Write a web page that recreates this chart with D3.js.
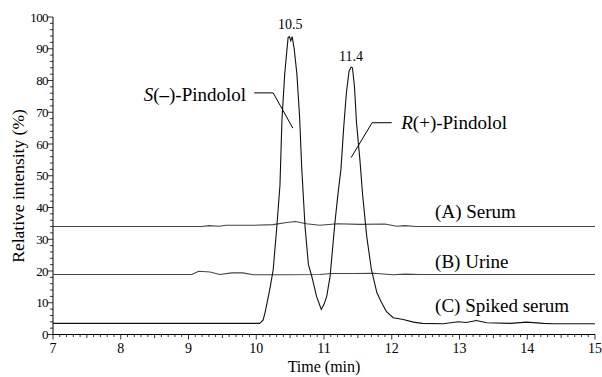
<!DOCTYPE html>
<html><head><meta charset="utf-8">
<script src="https://cdn.jsdelivr.net/npm/d3@7"></script>
<style>
html,body{margin:0;padding:0;background:#fff;}
svg, svg text{font-family:"Liberation Serif","Times New Roman",Times,serif;}
</style></head>
<body><svg id="c" width="602" height="377" font-family="Liberation Serif, Times New Roman, serif"></svg>
<script>
// ---- data (time in min, relative intensity in %) ----
const spikedTime = [7.0,9.9,10.05,10.1,10.13,10.2,10.25,10.3,10.35,10.38,10.42,10.45,10.47,10.49,10.51,10.53,10.56,10.6,10.64,10.67,10.72,10.77,10.82,10.89,10.96,11.0,11.04,11.09,11.16,11.21,11.25,11.29,11.33,11.37,11.4,11.42,11.45,11.48,11.53,11.57,11.63,11.7,11.78,11.85,11.92,12.02,12.17,12.32,12.45,12.76,12.98,13.1,13.25,13.4,13.75,13.99,14.24,14.38,15.0];
const spikedValue = [3.5,3.5,3.5,4.5,6.9,14.2,20.4,33,47,68,82,89,93.5,93.8,92.5,93.8,90,82,68.5,53,34,22,18.3,12,7.9,9.5,12,18.3,35,45,52,65,76,83,84.2,84,78,66.6,55,44,31,20.4,13.2,10,7.3,5.3,4.7,3.9,3.5,3.4,4.0,3.8,4.4,3.7,3.5,3.9,3.5,3.4,3.4];
const serumTime = [7.0,9.2,9.3,9.45,9.55,9.96,10.25,10.45,10.58,10.74,10.94,11.2,11.53,11.9,12.07,12.2,12.35,15.0];
const serumValue = [34.0,34.0,34.3,34.1,34.4,34.4,34.6,35.3,35.6,34.9,34.4,34.9,34.7,34.8,34.1,34.3,34.0,34.0];
const urineTime = [7.0,9.05,9.15,9.32,9.46,9.64,9.8,9.96,10.45,10.94,11.1,11.45,11.73,12.02,12.2,12.4,15.0];
const urineValue = [18.9,18.9,19.9,19.7,18.9,19.4,19.4,18.8,18.8,18.9,19.2,19.2,19.3,18.8,19.0,18.9,18.9];
const xTicks = [7,8,9,10,11,12,13,14,15];
const yTicks = [0,10,20,30,40,50,60,70,80,90,100];
const seriesNames = ["(A) Serum","(B) Urine","(C) Spiked serum"];
const seriesLabelAt = [[12.64,36.8],[12.64,21.1],[12.64,7.2]];
const peakTimes = [10.5, 11.4];
const peakLabelY = [96.2, 86.0];
const leaderS = [[9.97,76.1],[10.25,76.1],[10.54,65.0]];
const leaderR = [[12.0,66.7],[11.71,66.7],[11.40,55.7]];

// ---- chart ----
const FF = "Liberation Serif, Times New Roman, serif";
const svg = d3.select("#c");
const x = d3.scaleLinear().domain([7,15]).range([53,595]);
const y = d3.scaleLinear().domain([0,100]).range([334.5,17]);

// x axis
const xMinor = d3.range(70,151).map(d=>d/10);
const gx = svg.append("g").attr("transform",`translate(0,${y(0)})`);
gx.append("line").attr("x1",x(7)).attr("x2",x(15)).attr("stroke","#000");
gx.selectAll("line.mn").data(xMinor).join("line").attr("class","mn")
  .attr("x1",d=>x(d)).attr("x2",d=>x(d)).attr("y1",0)
  .attr("y2",d=>Math.abs(d-Math.round(d))<1e-6?5:(Math.abs(d*2-Math.round(d*2))<1e-6?3.5:2.5))
  .attr("stroke","#000").attr("stroke-width",0.8);
gx.selectAll("text").data(xTicks).join("text")
  .attr("x",d=>x(d)).attr("y",18).attr("text-anchor","middle").attr("font-family",FF)
  .attr("font-size",14).text(d=>d);

// y axis
const yMinor = d3.range(0,101,2);
const gy = svg.append("g").attr("transform",`translate(${x(7)},0)`);
gy.append("line").attr("y1",y(0)).attr("y2",y(100)).attr("stroke","#000");
gy.selectAll("line.mn").data(yMinor).join("line").attr("class","mn")
  .attr("y1",d=>y(d)).attr("y2",d=>y(d)).attr("x1",0)
  .attr("x2",d=>d%10===0?-5:-3).attr("stroke","#000").attr("stroke-width",0.8);
gy.selectAll("text").data(yTicks).join("text")
  .attr("x",-5).attr("y",d=>y(d)).attr("dy","0.35em").attr("text-anchor","end").attr("font-family",FF)
  .attr("font-size",13).attr("letter-spacing",-0.6).text(d=>d);

// axis titles
svg.append("text").attr("x",(x(7)+x(15))/2).attr("y",372).attr("text-anchor","middle").attr("font-family",FF)
  .attr("font-size",16).text("Time (min)");
svg.append("text").attr("transform",`translate(24,${186}) rotate(-90)`).attr("text-anchor","middle").attr("font-family",FF)
  .attr("font-size",17.5).text("Relative intensity (%)");

// lines
const line = d3.line().x(d=>x(d[0])).y(d=>y(d[1]));
const series = [
  {t:serumTime, v:serumValue, c:"#444"},
  {t:urineTime, v:urineValue, c:"#444"},
  {t:spikedTime, v:spikedValue, c:"#111"}
];
series.forEach(s=>{
  svg.append("path").datum(s.t.map((t,i)=>[t,s.v[i]]))
    .attr("d",line).attr("fill","none").attr("stroke",s.c).attr("stroke-width",1.1);
});

// series labels
svg.selectAll("text.sl").data(seriesNames).join("text").attr("class","sl")
  .attr("x",(d,i)=>x(seriesLabelAt[i][0])).attr("y",(d,i)=>y(seriesLabelAt[i][1])).attr("font-family",FF)
  .attr("font-size",19).text(d=>d);

// peak labels
svg.selectAll("text.pk").data(peakTimes).join("text").attr("class","pk")
  .attr("x",d=>x(d)).attr("y",(d,i)=>y(peakLabelY[i])).attr("text-anchor","middle").attr("font-family",FF)
  .attr("font-size",14).text(d=>d.toFixed(1));

// leaders
const ll = d3.line().x(d=>x(d[0])).y(d=>y(d[1]));
[leaderS, leaderR].forEach(p=>{
  svg.append("path").attr("d",ll(p)).attr("fill","none").attr("stroke","#000").attr("stroke-width",1);
});

// enantiomer labels
const tS = svg.append("text").attr("x",x(9.85)).attr("y",y(73.6)).attr("text-anchor","end").attr("font-family",FF).attr("font-size",19);
tS.append("tspan").attr("font-style","italic").text("S");
tS.append("tspan").text("(");
tS.append("tspan").attr("font-weight","bold").text("–");
tS.append("tspan").text(")-Pindolol");
const tR = svg.append("text").attr("x",x(12.14)).attr("y",y(64.8)).attr("font-family",FF).attr("font-size",19);
tR.append("tspan").attr("font-style","italic").text("R");
tR.append("tspan").text("(+)-Pindolol");
</script></body></html>
